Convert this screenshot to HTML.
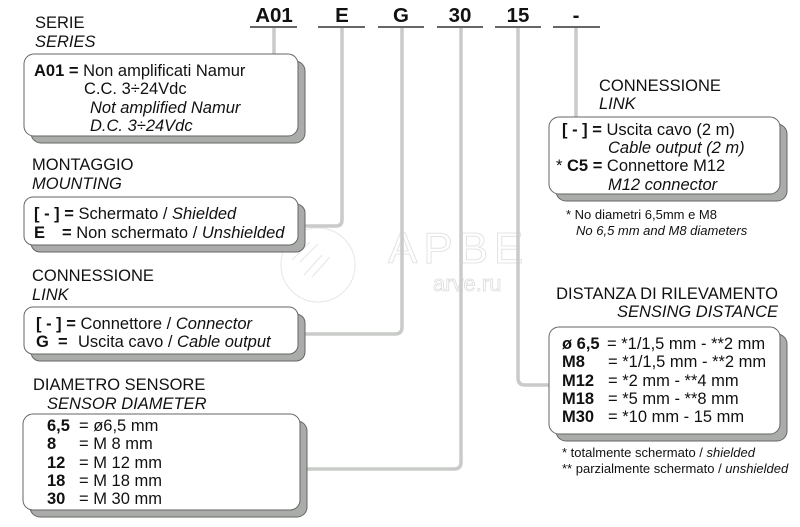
<!DOCTYPE html>
<html><head><meta charset="utf-8"><style>
html,body{margin:0;padding:0;background:#fff;width:800px;height:527px;overflow:hidden}
svg{display:block}
text{font-family:"Liberation Sans",sans-serif;fill:#111}
.t{font-size:16.5px}
.b{font-weight:bold}
.i{font-style:italic}
.n{font-size:13px}
</style></head><body>
<svg width="800" height="527" viewBox="0 0 800 527" xmlns="http://www.w3.org/2000/svg">
<!-- watermark -->
<g fill="none" stroke="#e6e6e6" stroke-width="1">
<circle cx="318" cy="265" r="37"/>
<path d="M292 260 l18 -18 M300 262 l18 -18 M304 275 l18 -20 M312 277 l18 -20"/>
</g>
<text x="388" y="263" font-size="44" style="fill:none;stroke:#e4e4e4;stroke-width:1;letter-spacing:6px">APBE</text>
<text x="433" y="291" font-size="22" style="fill:#fff;stroke:#dcdcdc;stroke-width:0.8">arve.ru</text>

<!-- connector lines -->
<g fill="none" stroke="#c9cbc9" stroke-width="3.5">
<path d="M274 28 V56"/>
<path d="M342 28 V220 q0 6 -6 6 H300"/>
<path d="M402 28 V327 q0 7 -7 7 H300"/>
<path d="M461 28 V462 q0 7 -7 7 H302"/>
<path d="M518 28 V378 q0 7 7 7 H550"/>
<path d="M576 28 V118"/>
</g>

<!-- header codes -->
<g text-anchor="middle">
<text x="274" y="22" font-size="20.5" font-weight="bold">A01</text>
<text x="342" y="22" font-size="20.5" font-weight="bold">E</text>
<text x="401" y="22" font-size="20.5" font-weight="bold">G</text>
<text x="460" y="22" font-size="20.5" font-weight="bold">30</text>
<text x="518" y="22" font-size="20.5" font-weight="bold">15</text>
<text x="576" y="22" font-size="20.5" font-weight="bold">-</text>
</g>
<g stroke="#333" stroke-width="1.5">
<path d="M250 27 H297 M318 27 H365 M378 27 H424 M437 27 H483 M495 27 H541 M553 27 H600"/>
</g>

<!-- boxes -->
<g stroke="#666" stroke-width="1">
<rect x="31" y="61" width="274" height="82" rx="10" fill="#a9aca9"/>
<rect x="24" y="54" width="274" height="82" rx="10" fill="#fff"/>
<rect x="31" y="204" width="274" height="48" rx="9" fill="#a9aca9"/>
<rect x="24" y="197" width="274" height="48" rx="9" fill="#fff"/>
<rect x="31" y="314" width="274" height="47" rx="9" fill="#a9aca9"/>
<rect x="24" y="307" width="274" height="47" rx="9" fill="#fff"/>
<rect x="30" y="421" width="277" height="96" rx="10" fill="#a9aca9"/>
<rect x="23" y="414" width="277" height="96" rx="10" fill="#fff"/>
<rect x="556" y="124" width="231" height="77" rx="10" fill="#a9aca9"/>
<rect x="549" y="117" width="231" height="77" rx="10" fill="#fff"/>
<rect x="556" y="334" width="231" height="107" rx="10" fill="#a9aca9"/>
<rect x="549" y="327" width="231" height="107" rx="10" fill="#fff"/>
</g>

<!-- SERIE -->
<text class="t" x="35" y="28">SERIE</text>
<text class="t i" x="35" y="47">SERIES</text>
<text class="t" x="34" y="76"><tspan class="b">A01 =</tspan> Non amplificati Namur</text>
<text class="t" x="84" y="94">C.C. 3÷24Vdc</text>
<text class="t i" x="90" y="113">Not amplified Namur</text>
<text class="t i" x="90" y="131">D.C. 3÷24Vdc</text>

<!-- MONTAGGIO -->
<text class="t" x="32" y="170">MONTAGGIO</text>
<text class="t i" x="32" y="189">MOUNTING</text>
<text class="t" x="34" y="219"><tspan class="b">[ - ] =</tspan> Schermato / <tspan class="i">Shielded</tspan></text>
<text class="t" x="34" y="238"><tspan class="b">E</tspan><tspan class="b" x="62">=</tspan> Non schermato / <tspan class="i">Unshielded</tspan></text>

<!-- CONNESSIONE left -->
<text class="t" x="32" y="281">CONNESSIONE</text>
<text class="t i" x="32" y="300">LINK</text>
<text class="t" x="36" y="329"><tspan class="b">[ - ] =</tspan> Connettore / <tspan class="i">Connector</tspan></text>
<text class="t" x="36" y="347"><tspan class="b">G</tspan><tspan class="b" x="58">=</tspan><tspan x="78">Uscita cavo / </tspan><tspan class="i">Cable output</tspan></text>

<!-- DIAMETRO -->
<text class="t" x="33" y="390">DIAMETRO SENSORE</text>
<text class="t i" x="47" y="409">SENSOR DIAMETER</text>
<text class="t" x="47" y="431"><tspan class="b">6,5</tspan><tspan x="79">= ø6,5 mm</tspan></text>
<text class="t" x="47" y="449"><tspan class="b">8</tspan><tspan x="79">= M 8 mm</tspan></text>
<text class="t" x="47" y="468"><tspan class="b">12</tspan><tspan x="79">= M 12 mm</tspan></text>
<text class="t" x="47" y="486"><tspan class="b">18</tspan><tspan x="79">= M 18 mm</tspan></text>
<text class="t" x="47" y="504"><tspan class="b">30</tspan><tspan x="79">= M 30 mm</tspan></text>

<!-- CONNESSIONE right -->
<text class="t" x="599" y="91">CONNESSIONE</text>
<text class="t i" x="599" y="109">LINK</text>
<text class="t" x="562" y="135"><tspan class="b">[ - ] =</tspan> Uscita cavo (2 m)</text>
<text class="t i" x="608" y="153">Cable output (2 m)</text>
<text class="t" x="556" y="171"><tspan>* </tspan><tspan class="b">C5 =</tspan> Connettore M12</text>
<text class="t i" x="608" y="190">M12 connector</text>
<text class="n" x="566" y="219">* No diametri 6,5mm e M8</text>
<text class="n i" x="576" y="235">No 6,5 mm and M8 diameters</text>

<!-- DISTANZA -->
<text class="t" x="778" y="299" text-anchor="end">DISTANZA DI RILEVAMENTO</text>
<text class="t i" x="778" y="317" text-anchor="end">SENSING DISTANCE</text>
<text class="t" x="562" y="349"><tspan class="b">ø 6,5</tspan><tspan x="607">= *1/1,5 mm - **2 mm</tspan></text>
<text class="t" x="562" y="367"><tspan class="b">M8</tspan><tspan x="608">= *1/1,5 mm - **2 mm</tspan></text>
<text class="t" x="562" y="386"><tspan class="b">M12</tspan><tspan x="608">= *2 mm - **4 mm</tspan></text>
<text class="t" x="562" y="404"><tspan class="b">M18</tspan><tspan x="608">= *5 mm - **8 mm</tspan></text>
<text class="t" x="562" y="422"><tspan class="b">M30</tspan><tspan x="608">= *10 mm - 15 mm</tspan></text>
<text class="n" x="562" y="457">* totalmente schermato / <tspan class="i">shielded</tspan></text>
<text class="n" x="562" y="473">** parzialmente schermato / <tspan class="i">unshielded</tspan></text>
</svg>
</body></html>
